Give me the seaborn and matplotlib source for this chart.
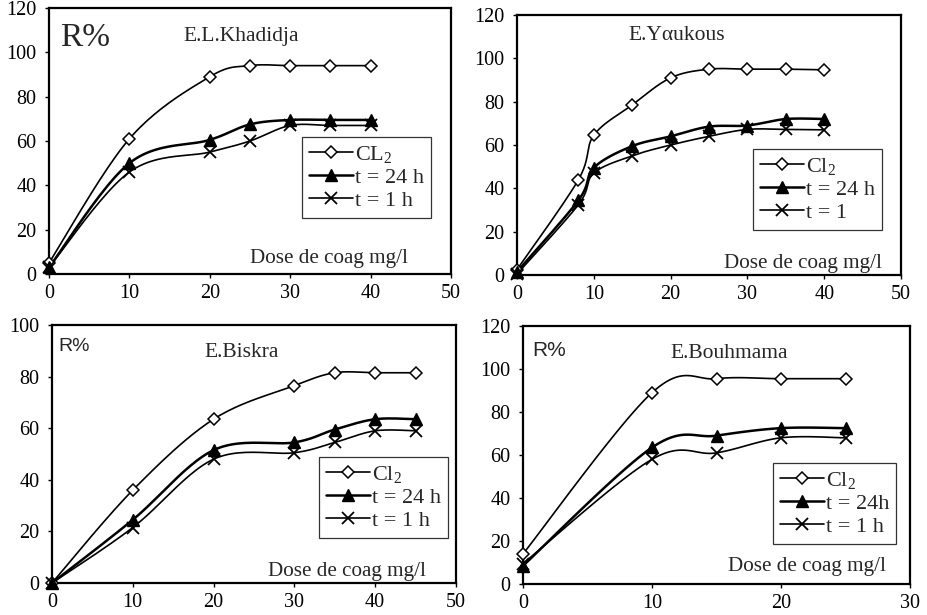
import numpy as np
import pandas as pd
import seaborn as sns
import matplotlib.pyplot as plt
from matplotlib.lines import Line2D

# ---- data ----
khad_dose = [0, 10, 20, 25, 30, 35, 40]
khad_cl2 = [5, 61, 89, 94, 94, 94, 94]
khad_24h = [3, 50, 60.5, 67.5, 69.5, 69.5, 69.5]
khad_1h = [3, 46, 55, 60, 67, 67, 67]

youk_dose = [0, 8, 10, 15, 20, 25, 30, 35, 40]
youk_cl2 = [2.5, 44, 64.5, 78.5, 91, 95, 95, 95, 94.7]
youk_24h = [1.5, 34.5, 49.5, 59.5, 64, 68.5, 69, 72, 72]
youk_1h = [0.5, 32.5, 47, 55, 60, 64, 67.2, 67.2, 67]

bisk_dose = [0, 10, 20, 30, 35, 40, 45]
bisk_cl2 = [0, 36, 63.5, 76.5, 81.5, 81.5, 81.5]
bisk_24h = [0, 24.5, 51.5, 54.5, 59.5, 63.5, 63.5]
bisk_1h = [0, 21.5, 48, 50.5, 54.5, 59, 59]

bouh_dose = [0, 10, 15, 20, 25]
bouh_cl2 = [14, 89, 95.5, 95.5, 95.5]
bouh_24h = [8.5, 63.5, 69, 72.5, 72.5]
bouh_1h = [9.5, 58, 61, 68, 68]

panels = [
    dict(name="E.L.Khadidja", dose=khad_dose, cl2=khad_cl2, h24=khad_24h, h1=khad_1h,
         labels=[r"CL$\mathregular{_2}$", "t = 24 h", "t = 1 h"],
         xmax=50, ymax=120, pos=[0.0528, 0.5545, 0.4332, 0.4325],
         title_xy=(0.478, 0.891), r_xy=(0.027, 0.887), r_style="big", r_size=24,
         dose_xy=(0.697, 0.06), leg_xy=(0.629, 0.515)),
    dict(name="E.Yαukous", dose=youk_dose, cl2=youk_cl2, h24=youk_24h, h1=youk_1h,
         labels=[r"Cl$\mathregular{_2}$", "t = 24 h", "t = 1"],
         xmax=50, ymax=120, pos=[0.5571, 0.5528, 0.4138, 0.4228],
         title_xy=(0.415, 0.923), r_xy=None, r_style=None, r_size=None,
         dose_xy=(0.745, 0.046), leg_xy=(0.615, 0.485)),
    dict(name="E.Biskra", dose=bisk_dose, cl2=bisk_cl2, h24=bisk_24h, h1=bisk_1h,
         labels=[r"Cl$\mathregular{_2}$", "t = 24 h", "t = 1 h"],
         xmax=50, ymax=100, pos=[0.0560, 0.0520, 0.4353, 0.4195],
         title_xy=(0.470, 0.895), r_xy=(0.017, 0.915), r_style="sans", r_size=14,
         dose_xy=(0.730, 0.043), leg_xy=(0.661, 0.488)),
    dict(name="E.Bouhmama", dose=bouh_dose, cl2=bouh_cl2, h24=bouh_24h, h1=bouh_1h,
         labels=[r"Cl$\mathregular{_2}$", "t = 24h", "t = 1 h"],
         xmax=30, ymax=120, pos=[0.5636, 0.0504, 0.4170, 0.4195],
         title_xy=(0.534, 0.895), r_xy=(0.023, 0.907), r_style="sans", r_size=15,
         dose_xy=(0.734, 0.066), leg_xy=(0.646, 0.469)),
]

sns.set_theme(style="white")
plt.rcParams["font.family"] = ["Liberation Serif", "DejaVu Serif"]
plt.rcParams["mathtext.fontset"] = "custom"
plt.rcParams["mathtext.rm"] = "Liberation Serif"

W, H = 928, 615
fig = plt.figure(figsize=(W / 100, H / 100), dpi=100)


def smooth(x, y, sx, sy, n=25):
    # Excel-like smoothed line: Bezier through points, computed in screen units
    P = np.column_stack([np.asarray(x, float) / sx, np.asarray(y, float) / sy])
    out = []
    t = np.linspace(0, 1, n)[:, None]
    for i in range(len(P) - 1):
        p0 = P[i - 1] if i > 0 else P[i]
        p1, p2 = P[i], P[i + 1]
        p3 = P[i + 2] if i + 2 < len(P) else P[i + 1]
        c1 = p1 + (p2 - p0) / 6
        c2 = p2 - (p3 - p1) / 6
        seg = (1 - t) ** 3 * p1 + 3 * (1 - t) ** 2 * t * c1 + 3 * (1 - t) * t ** 2 * c2 + t ** 3 * p2
        out.append(seg if i == 0 else seg[1:])
    S = np.vstack(out)
    return S[:, 0] * sx, S[:, 1] * sy


styles = [
    dict(marker="D", ms=6, mfc="white", mec="black", mew=1.1, lw=1.2),
    dict(marker="^", ms=8, mfc="black", mec="black", mew=1.0, lw=1.8),
    dict(marker="x", ms=8, mfc="black", mec="black", mew=1.3, lw=1.2),
]

for p in panels:
    ax = fig.add_axes(p["pos"])
    wpx = p["pos"][2] * W
    hpx = p["pos"][3] * H
    sx = p["xmax"] / wpx
    sy = p["ymax"] / hpx
    handles = []
    for key, st, lab in zip(["cl2", "h24", "h1"], styles, p["labels"]):
        xs, ys = smooth(p["dose"], p[key], sx, sy)
        df = pd.DataFrame({"x": xs, "y": ys})
        sns.lineplot(data=df, x="x", y="y", ax=ax, color="black", lw=st["lw"],
                     sort=False, estimator=None)
        ax.plot(p["dose"], p[key], ls="none", marker=st["marker"], ms=st["ms"],
                mfc=st["mfc"], mec=st["mec"], mew=st["mew"], clip_on=False, zorder=5)
        handles.append(Line2D([], [], color="black", lw=st["lw"], marker=st["marker"],
                              ms=st["ms"], mfc=st["mfc"], mec=st["mec"], mew=st["mew"],
                              label=lab))
    ax.set_xlim(0, p["xmax"])
    ax.set_ylim(0, p["ymax"])
    ax.set_xticks(np.arange(0, p["xmax"] + 1, 10))
    ax.set_yticks(np.arange(0, p["ymax"] + 1, 20))
    ax.set_xlabel("")
    ax.set_ylabel("")
    ax.tick_params(direction="out", length=3, width=1, colors="black",
                   labelsize=14.5, bottom=True, left=True)
    ax.tick_params(axis="x", pad=4.5)
    ax.tick_params(axis="y", pad=6)
    for s in ax.spines.values():
        s.set_color("black")
        s.set_linewidth(1.6)

    ax.text(*p["title_xy"], p["name"], transform=ax.transAxes, ha="center",
            va="center", fontsize=15.5)
    if p["r_style"] == "big":
        ax.text(*p["r_xy"], "R%", transform=ax.transAxes, ha="left", va="center",
                fontsize=p["r_size"])
    elif p["r_style"] == "sans":
        ax.text(*p["r_xy"], "R%", transform=ax.transAxes, ha="left", va="center",
                fontsize=p["r_size"], family=["Liberation Sans", "DejaVu Sans"])
    ax.text(*p["dose_xy"], "Dose de coag mg/l", transform=ax.transAxes, ha="center",
            va="center", fontsize=15.2)

    leg = ax.legend(handles=handles, loc="upper left", bbox_to_anchor=p["leg_xy"],
                    frameon=True, fancybox=False, fontsize=16, handlelength=2.0,
                    handletextpad=0.1, borderpad=0.3, labelspacing=0.12,
                    borderaxespad=0)
    leg.get_frame().set_edgecolor("black")
    leg.get_frame().set_linewidth(0.9)

fig.savefig("out.png", dpi=100)
